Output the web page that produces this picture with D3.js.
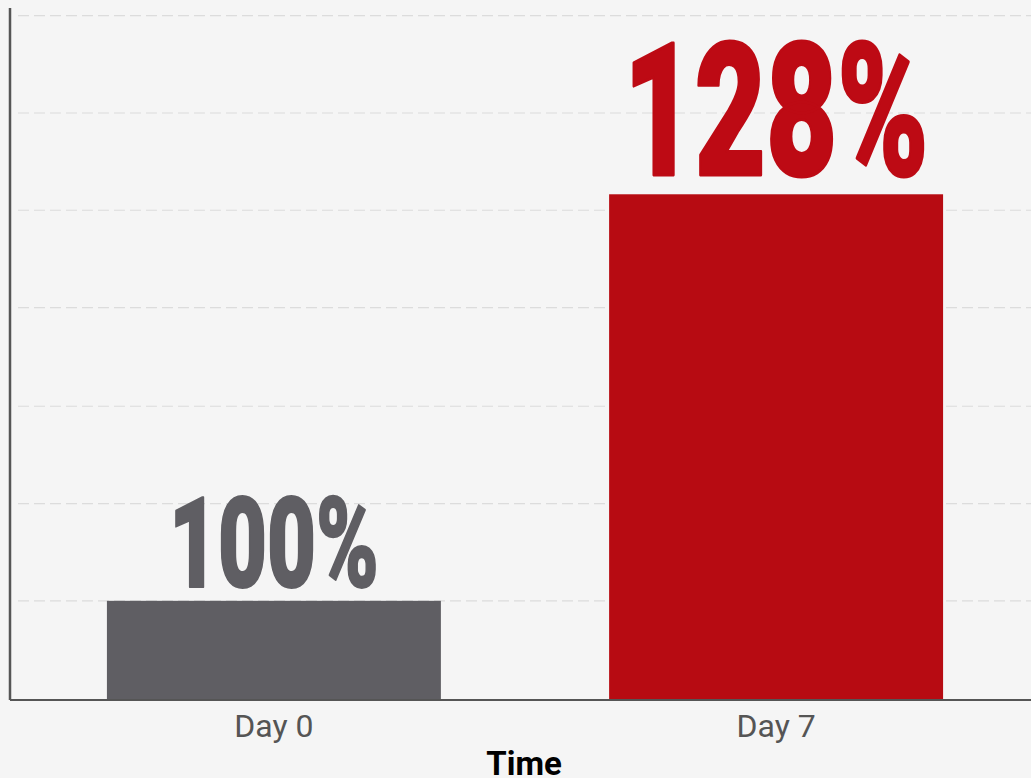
<!DOCTYPE html>
<html><head><meta charset="utf-8">
<script src="https://cdn.jsdelivr.net/npm/d3@7"></script>
<style>
html,body{margin:0;padding:0;background:#f5f5f5;}
svg{display:block;}
</style></head>
<body>
<svg id="c" width="1031" height="778"></svg>
<script>
const categories = ["Day 0", "Day 7"];
const values = [100, 128];
const valueLabels = ["100%", "128%"];
const gridValues = [100, 106.7, 113.4, 120.2, 126.9, 133.6, 140.3];
const axisTitle = "Time";
const barColors = ["#5f5e63", "#b70b12"];
const labelColors = ["#5f5e63", "#bd0a14"];

const svg = d3.select("#c");
const W = 1031, H = 778;
const plot = {left: 10, right: 1040, top: 8, bottom: 700};

const x = d3.scaleBand().domain(categories).range([plot.left, plot.right])
  .paddingInner(0.335).paddingOuter(0.193);
const y = d3.scaleLinear().domain([93.17, 140.83]).range([plot.bottom, plot.top]);

svg.append("rect").attr("width", W).attr("height", H).attr("fill", "#f5f5f5");

// gridlines
svg.append("g").selectAll("line").data(gridValues).join("line")
  .attr("x1", 18).attr("x2", W)
  .attr("y1", d => y(d)).attr("y2", d => y(d))
  .attr("stroke", "#dcdcdc").attr("stroke-width", 1.2)
  .attr("stroke-dasharray", "11,5");

// bars
svg.append("g").selectAll("rect").data(values).join("rect")
  .attr("x", (d, i) => x(categories[i]))
  .attr("width", x.bandwidth())
  .attr("y", d => y(d))
  .attr("height", d => plot.bottom - y(d))
  .attr("fill", (d, i) => barColors[i]);

// value labels (condensed heavy look)
const sizes = [127, 186];
const lengths = [210, 305];
svg.append("g").selectAll("text").data(values).join("text")
  .attr("x", (d, i) => x(categories[i]) + x.bandwidth() / 2)
  .attr("y", (d, i) => y(d) - sizes[i] * 0.105)
  .attr("text-anchor", "middle")
  .attr("font-family", "Roboto, sans-serif")
  .attr("font-weight", 900)
  .attr("font-size", (d, i) => sizes[i])
  .attr("textLength", (d, i) => lengths[i])
  .attr("lengthAdjust", "spacingAndGlyphs")
  .attr("fill", (d, i) => labelColors[i])
  .attr("stroke", (d, i) => labelColors[i])
  .attr("stroke-width", (d, i) => sizes[i] * 0.016)
  .attr("stroke-linejoin", "round")
  .text((d, i) => valueLabels[i]);

// axes lines
svg.append("line").attr("x1", plot.left).attr("x2", W)
  .attr("y1", plot.bottom).attr("y2", plot.bottom)
  .attr("stroke", "#555").attr("stroke-width", 2);
svg.append("line").attr("x1", plot.left).attr("x2", plot.left)
  .attr("y1", plot.top).attr("y2", plot.bottom)
  .attr("stroke", "#555").attr("stroke-width", 2.5);

// x axis tick labels
const xAxis = d3.axisBottom(x).tickSize(0).tickPadding(14);
const gx = svg.append("g").attr("transform", `translate(0,${plot.bottom})`).call(xAxis);
gx.select(".domain").remove();
gx.selectAll("text")
  .attr("font-family", "Roboto, sans-serif")
  .attr("font-size", 32)
  .attr("fill", "#555");

// axis title
svg.append("text").attr("x", 524).attr("y", 775)
  .attr("text-anchor", "middle")
  .attr("font-family", "Roboto, sans-serif")
  .attr("font-weight", 700).attr("font-size", 33)
  .attr("fill", "#000").text(axisTitle);
</script>
</body></html>
